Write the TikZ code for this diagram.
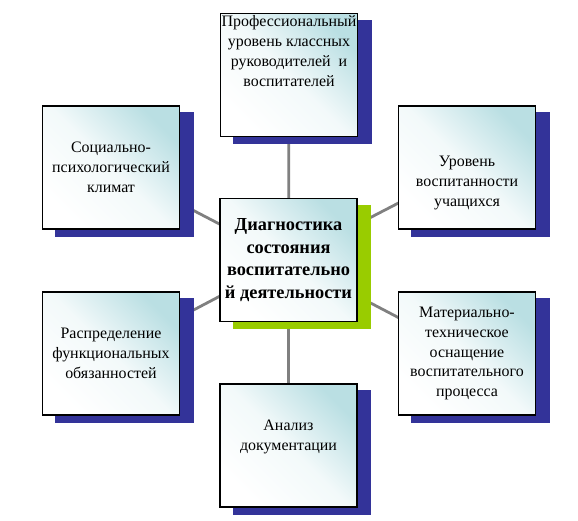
\documentclass[tikz,border=0pt]{standalone}
\usepackage{fontspec}
\setmainfont{Liberation Serif}
\usetikzlibrary{calc,backgrounds}
\definecolor{shadowblue}{RGB}{51,51,153}
\definecolor{shadowgreen}{RGB}{153,204,0}
\definecolor{cardteal}{RGB}{186,223,227}
\definecolor{linkgray}{RGB}{128,128,128}
\def\cardshadow[#1](#2){\fill[#1] ($(#2.south west)+(13.5,7)$) rectangle ($(#2.north east)+(13.5,7)$);}
\tikzset{
	card/.style={draw=black, line width=1.2bp, minimum width=137bp, minimum height=123bp, inner sep=0pt, align=center, font=\fontsize{16}{20}\selectfont, top color=cardteal, bottom color=white, middle color=cardteal!18!white, shading angle=-45},
	link/.style={draw=linkgray, line width=2.8bp}
}
\begin{document}
\begin{tikzpicture}[x=1bp, y=-1bp]
			%%%%% START %%%%%
			\useasboundingbox (0,0) rectangle (578,521);
			
			\node[card] (prof) at (289,75) {\parbox[c][119bp][t]{136bp}{\centering Профессиональный\\уровень классных\\руководителей\ \ и\\воспитателей}};
			\node[card, font=\bfseries\fontsize{18.4}{22.5}\selectfont] (diag) at (288.5,260) {Диагностика\\состояния\\воспитательно\\й деятельности};
			
			\node[card] (soc) at (111,167.5) {Социально-\\психологический\\климат};
			\node[card] (lev) at (467,167.5) {\parbox[c][119bp][c]{136bp}{\centering\vspace*{31bp}Уровень\\воспитанности\\учащихся}};
			
			\node[card] (rasp) at (111,353.5) {Распределение\\функциональных\\обязанностей};
			\node[card] (mat) at (467,353.5) {Материально-\\техническое\\оснащение\\воспитательного\\процесса};
			
			\node[card] (anal) at (288.5,445.5) {\parbox[c][119bp][c]{136bp}{\centering Анализ\\документации\par\vspace*{18bp}}};
			
			\begin{pgfonlayer}{background}
				\draw[link] (diag.center) -- (prof.center);
				\draw[link] (diag.center) -- (soc.center);
				\draw[link] (diag.center) -- (lev.center);
				\draw[link] (diag.center) -- (rasp.center);
				\draw[link] (diag.center) -- (mat.center);
				\draw[link] (diag.center) -- (anal.center);
				
				\cardshadow[shadowblue](prof)
				\cardshadow[shadowgreen](diag)
				\cardshadow[shadowblue](soc)
				\cardshadow[shadowblue](lev)
				\cardshadow[shadowblue](rasp)
				\cardshadow[shadowblue](mat)
				\cardshadow[shadowblue](anal)
			\end{pgfonlayer}
			
			%%%%% END %%%%%
\end{tikzpicture}
\end{document}
